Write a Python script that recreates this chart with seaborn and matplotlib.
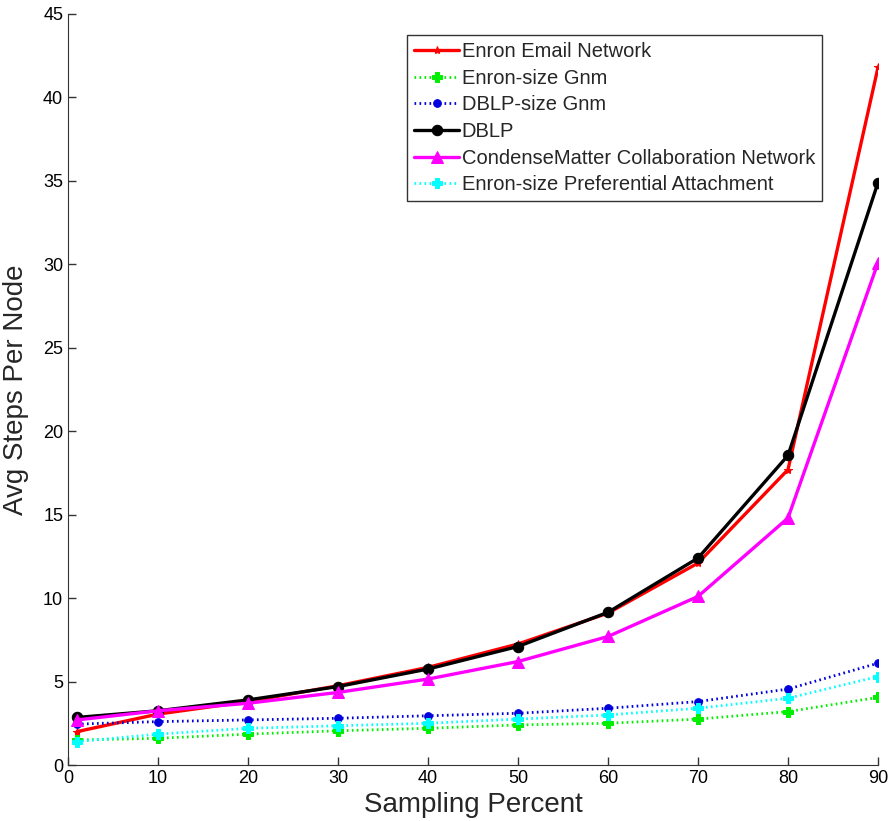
import matplotlib
matplotlib.use("Agg")
import matplotlib.pyplot as plt
import seaborn as sns
import pandas as pd

x_vals = [1, 10, 20, 30, 40, 50, 60, 70, 80, 90]
enron_email = [2.0, 3.05, 3.8, 4.75, 5.85, 7.25, 9.1, 12.1, 17.7, 41.8]
enron_gnm = [1.5, 1.6, 1.85, 2.05, 2.2, 2.4, 2.5, 2.75, 3.2, 4.05]
dblp_gnm = [2.45, 2.6, 2.7, 2.8, 2.95, 3.1, 3.4, 3.8, 4.55, 6.1]
dblp = [2.85, 3.25, 3.9, 4.7, 5.75, 7.1, 9.15, 12.4, 18.55, 34.9]
condense = [2.7, 3.25, 3.7, 4.35, 5.15, 6.2, 7.7, 10.1, 14.8, 30.1]
enron_pa = [1.4, 1.85, 2.2, 2.35, 2.5, 2.75, 3.0, 3.4, 4.0, 5.3]

series_names = ["Enron Email Network", "Enron-size Gnm", "DBLP-size Gnm", "DBLP",
                "CondenseMatter Collaboration Network", "Enron-size Preferential Attachment"]
series_values = [enron_email, enron_gnm, dblp_gnm, dblp, condense, enron_pa]

sns.set_style("ticks")
plt.rcParams['font.family'] = ['Liberation Sans', 'DejaVu Sans']

styles = [
    dict(color="#ff0000", ls="-", marker="*", ms=6, lw=2.4),
    dict(color="#00ee00", ls=(0, (0.6, 1.2)), marker="P", ms=7, lw=2.0),
    dict(color="#0000dd", ls=(0, (0.6, 1.2)), marker="o", ms=5.5, lw=2.0),
    dict(color="#000000", ls="-", marker="o", ms=7.5, lw=2.4),
    dict(color="#ff00ff", ls="-", marker="^", ms=8.5, lw=2.4),
    dict(color="#00ffff", ls=(0, (0.6, 1.2)), marker="P", ms=7, lw=2.0),
]

fig = plt.figure(figsize=(8.91, 8.21), dpi=100)
ax = fig.add_axes([68/891, 56/821, 810/891, 751/821])

for name, vals, st in zip(series_names, series_values, styles):
    df = pd.DataFrame({"x": x_vals, "y": vals})
    sns.lineplot(data=df, x="x", y="y", ax=ax, label=name, color=st["color"],
                 linestyle=st["ls"], marker=st["marker"], markersize=st["ms"],
                 linewidth=st["lw"], markeredgecolor=st["color"])

ax.set_xlim(0, 90)
ax.set_ylim(0, 45)
ax.set_xticks(range(0, 91, 10))
ax.set_yticks(range(0, 46, 5))
ax.tick_params(direction="in", labelsize=13, length=6, width=1, colors="#333333", labelcolor="black")
for s in ["top", "right"]:
    ax.spines[s].set_visible(False)
for s in ["left", "bottom"]:
    ax.spines[s].set_color("#333333")
ax.set_xlabel("Sampling Percent", fontsize=20, labelpad=4)
ax.set_ylabel("Avg Steps Per Node", fontsize=20, labelpad=10)

leg = ax.legend(loc="upper right", bbox_to_anchor=(0.931, 0.972), fontsize=14.5,
                frameon=True, fancybox=False, handlelength=2.2, handletextpad=0.15,
                borderpad=0.35, labelspacing=0.38, borderaxespad=0)
leg.get_frame().set_edgecolor("black")
leg.get_frame().set_linewidth(1.0)

fig.savefig("out.png", dpi=100)
